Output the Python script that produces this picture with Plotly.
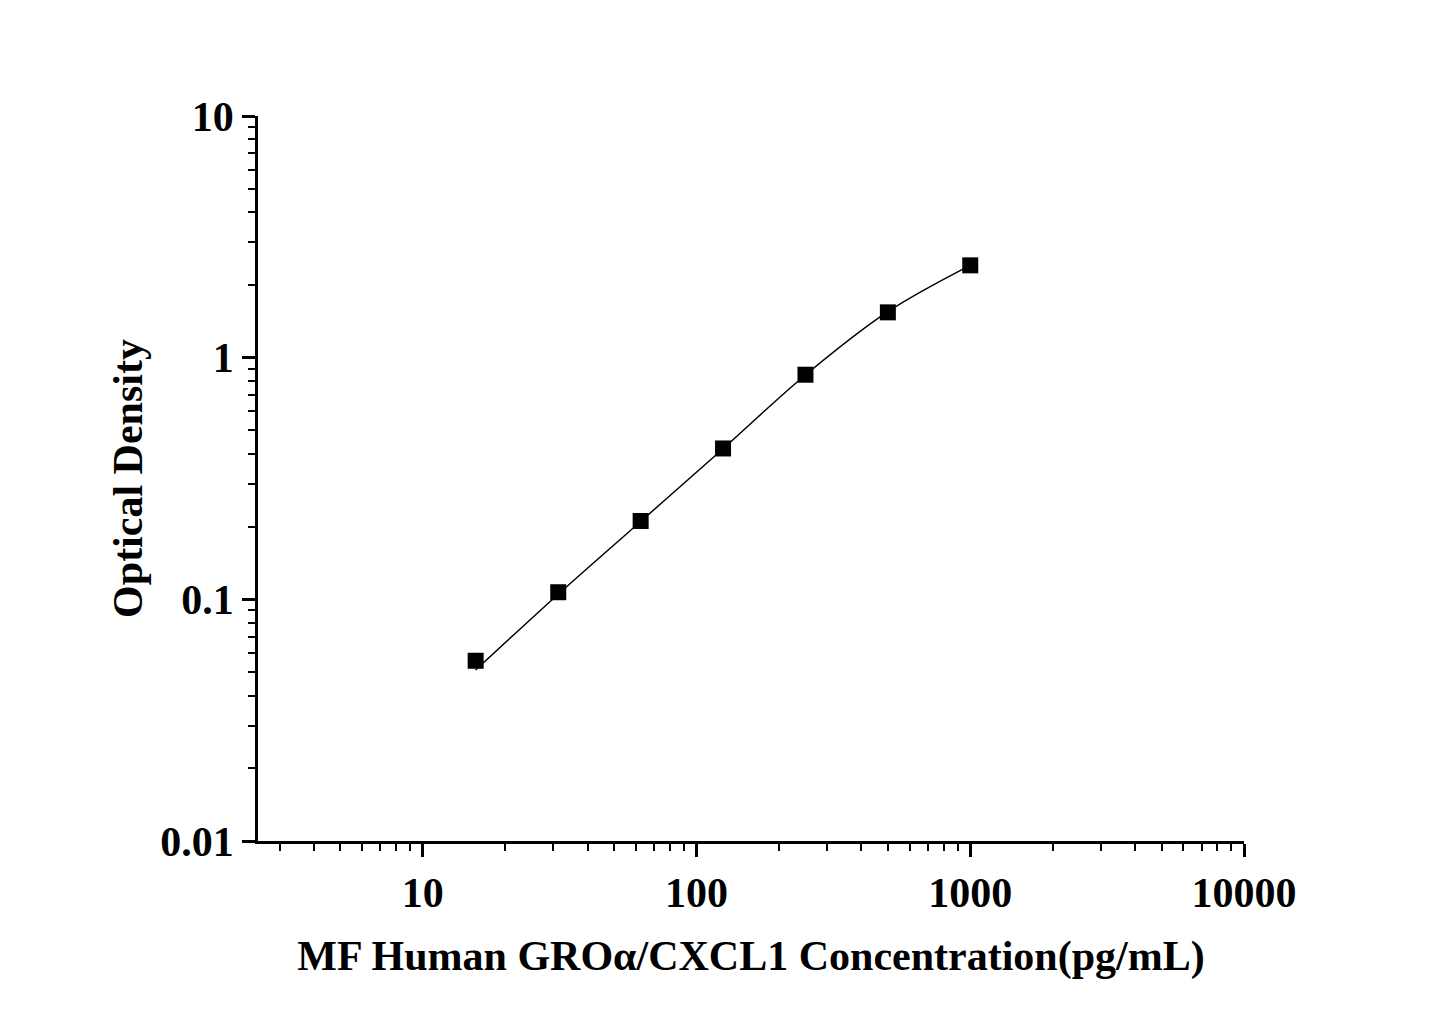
import plotly.graph_objects as go

# standard concentrations (pg/mL) and measured OD
conc = [15.6, 31.25, 62.5, 125, 250, 500, 1000]
od = [0.0557, 0.107, 0.211, 0.421, 0.850, 1.54, 2.41]

# fitted curve
fit_conc = [15.6, 31.25, 62.5, 125, 250, 500, 1000]
fit_od = [0.051, 0.105, 0.210, 0.420, 0.848, 1.55, 2.41]

x_ticks = [10, 100, 1000, 10000]
x_labels = ["10", "100", "1000", "10000"]
y_ticks = [0.01, 0.1, 1, 10]
y_labels = ["0.01", "0.1", "1", "10"]

FONT = "Liberation Serif"

fig = go.Figure()

fig.add_trace(go.Scatter(x=fit_conc, y=fit_od, mode="lines",
                         line=dict(color="black", width=1.5, shape="spline"),
                         showlegend=False, hoverinfo="skip"))
fig.add_trace(go.Scatter(x=conc, y=od, mode="markers",
                         marker=dict(symbol="square", size=16, color="black"),
                         showlegend=False))

axis_style = dict(showline=True, linecolor="black", linewidth=2.5, mirror=False,
                  showgrid=False, zeroline=False, ticks="outside", ticklen=13,
                  tickwidth=2.5, tickcolor="black",
                  tickfont=dict(family=FONT, size=42, color="black", weight="bold"),
                  minor=dict(ticks="outside", ticklen=7, tickwidth=2, tickcolor="black",
                             dtick="D1", showgrid=False))

fig.update_xaxes(type="log", range=[0.398, 4], tickvals=x_ticks, ticktext=x_labels,
                 title=dict(text="MF Human GROα/CXCL1 Concentration(pg/mL)", standoff=26,
                            font=dict(family=FONT, size=42, color="black", weight="bold")),
                 **axis_style)
fig.update_yaxes(type="log", range=[-2, 1], tickvals=y_ticks, ticktext=y_labels,
                 title=dict(text="Optical Density", standoff=5,
                            font=dict(family=FONT, size=42, color="black", weight="bold")),
                 **axis_style)

fig.update_layout(width=1445, height=1009, plot_bgcolor="white", paper_bgcolor="white",
                  margin=dict(l=250, r=209, t=108, b=176), showlegend=False)

fig.write_html("out.html")
